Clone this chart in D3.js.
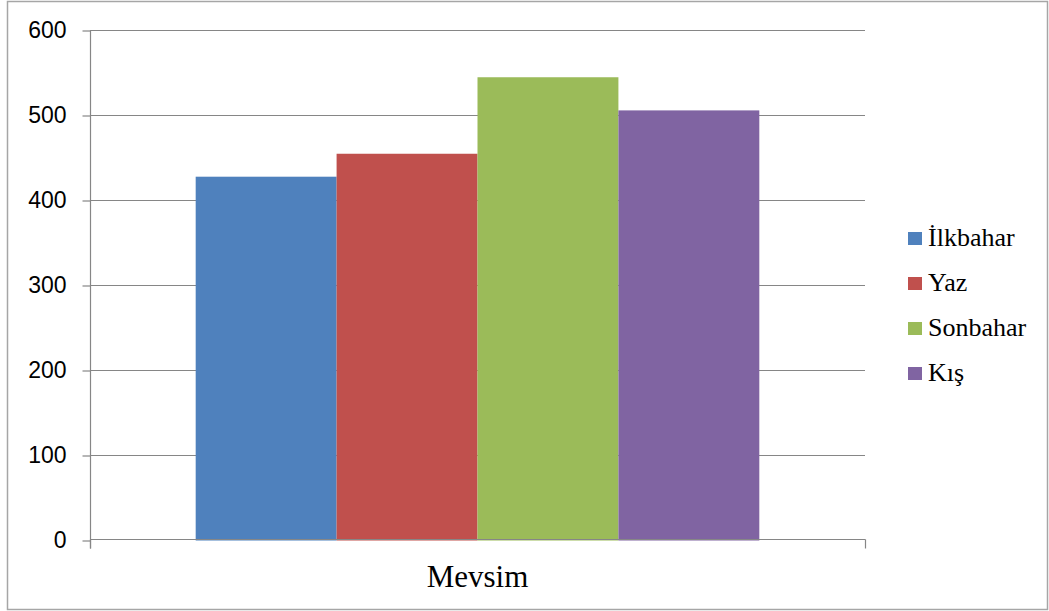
<!DOCTYPE html>
<html>
<head>
<meta charset="utf-8">
<script src="https://cdn.jsdelivr.net/npm/d3@7"></script>
<style>
  html, body { margin: 0; padding: 0; background: #fff; }
  svg { display: block; }
</style>
</head>
<body>
<script>
// Seasonal totals, one bar per season under a single category
const categories = ["Mevsim"];
const seriesNames = ["İlkbahar", "Yaz", "Sonbahar", "Kış"];
const seriesValues = [428, 455, 545, 506];
const seriesColors = ["#4F81BD", "#C0504D", "#9BBB59", "#8064A2"];
const yTicks = [0, 100, 200, 300, 400, 500, 600];

const W = 1049, H = 611;
const plot = { left: 90, right: 865, top: 30.5, bottom: 540.5 };

const svg = d3.select("body").append("svg")
  .attr("width", W).attr("height", H);

// outer chart frame
svg.append("rect")
  .attr("x", 7.5).attr("y", 1.5)
  .attr("width", 1040).attr("height", 608)
  .attr("fill", "#fff").attr("stroke", "#a6a6a6").attr("stroke-width", 1.5);

const y = d3.scaleLinear().domain([0, 600]).range([plot.bottom, plot.top]);

// category band: gap of 150% of one bar split on both sides
const x0 = d3.scaleBand().domain(categories)
  .range([plot.left, plot.right])
  .paddingInner(0).paddingOuter(0.1875);
const x1 = d3.scaleBand().domain(seriesNames)
  .range([0, x0.bandwidth()]).padding(0);

const axisGrey = "#868686";

// horizontal gridlines
svg.append("g").selectAll("line")
  .data(yTicks.filter(d => d > 0))
  .join("line")
  .attr("x1", plot.left).attr("x2", plot.right)
  .attr("y1", d => Math.floor(y(d)) + 0.5).attr("y2", d => Math.floor(y(d)) + 0.5)
  .attr("stroke", axisGrey).attr("stroke-width", 1.2);

// bars
const data = seriesNames.map((name, i) => ({ name, value: seriesValues[i], color: seriesColors[i] }));
svg.append("g")
  .attr("transform", `translate(${x0(categories[0])},0)`)
  .selectAll("rect")
  .data(data)
  .join("rect")
  .attr("x", d => x1(d.name))
  .attr("width", x1.bandwidth())
  .attr("y", d => y(d.value))
  .attr("height", d => y(0) - y(d.value))
  .attr("fill", d => d.color);

// y axis with outward ticks
const yAxis = d3.axisLeft(y).tickValues(yTicks).tickSize(8).tickPadding(16)
  .tickFormat(d3.format("d"));
const gy = svg.append("g")
  .attr("transform", `translate(${plot.left + 0.5},0)`)
  .call(yAxis);
gy.select(".domain").remove();
gy.selectAll(".tick line").attr("stroke", axisGrey).attr("stroke-width", 1.2);
gy.selectAll(".tick text")
  .attr("font-family", "'Liberation Sans', Arial, sans-serif")
  .attr("font-size", 23).attr("fill", "#000");
gy.append("line")
  .attr("x1", 0).attr("x2", 0)
  .attr("y1", plot.top).attr("y2", plot.bottom + 8)
  .attr("stroke", axisGrey).attr("stroke-width", 1.2);

// x axis baseline and end ticks
const gx = svg.append("g");
gx.append("line")
  .attr("x1", plot.left).attr("x2", plot.right + 0.5)
  .attr("y1", Math.floor(y(0)) - 0.5).attr("y2", Math.floor(y(0)) - 0.5)
  .attr("stroke", axisGrey).attr("stroke-width", 1.2);
gx.selectAll("line.tick")
  .data(x0.range())
  .join("line").attr("class", "tick")
  .attr("x1", d => d + 0.5).attr("x2", d => d + 0.5)
  .attr("y1", y(0) - 1).attr("y2", y(0) + 8)
  .attr("stroke", axisGrey).attr("stroke-width", 1.2);
gx.append("text")
  .attr("x", x0(categories[0]) + x0.bandwidth() / 2)
  .attr("y", 587)
  .attr("text-anchor", "middle")
  .attr("font-family", "'Liberation Serif', 'Times New Roman', serif")
  .attr("font-size", 31).attr("fill", "#000")
  .text(categories[0]);

// legend
const legend = svg.append("g").attr("transform", "translate(908,0)");
const rows = legend.selectAll("g").data(data).join("g")
  .attr("transform", (d, i) => `translate(0,${246 + i * 45})`);
rows.append("rect")
  .attr("x", 0).attr("y", -14).attr("width", 14).attr("height", 13)
  .attr("fill", d => d.color);
rows.append("text")
  .attr("x", 20).attr("y", 0)
  .attr("font-family", "'Liberation Serif', 'Times New Roman', serif")
  .attr("font-size", 26).attr("fill", "#000")
  .text(d => d.name);
</script>
</body>
</html>
